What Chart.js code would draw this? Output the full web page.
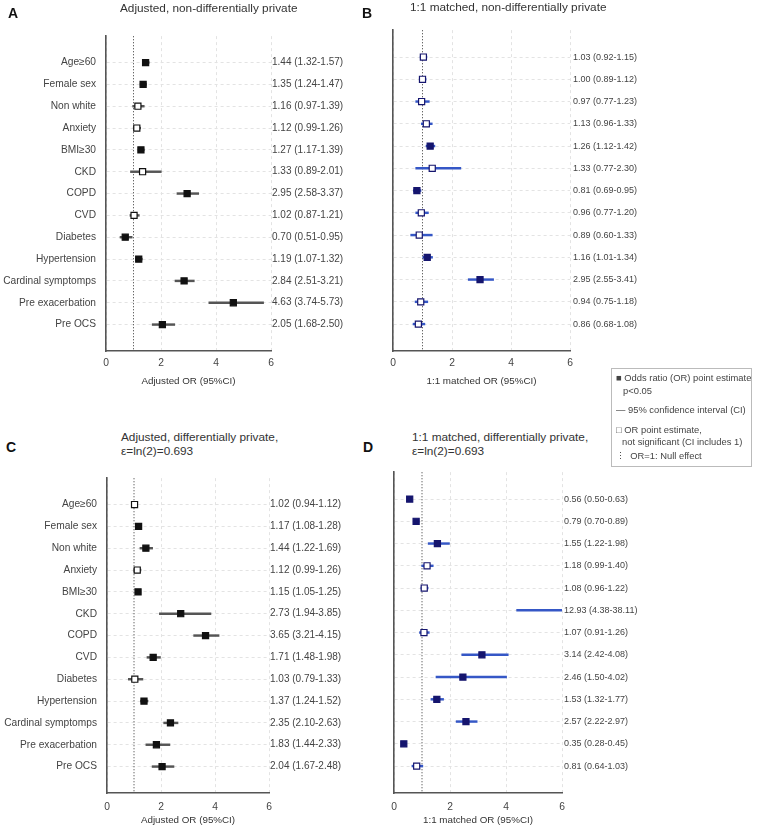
<!DOCTYPE html>
<html><head><meta charset="utf-8">
<script src="https://cdn.jsdelivr.net/npm/chart.js@4"></script>
<style>
body{margin:0;background:#fff;width:760px;height:830px;position:relative;overflow:hidden;font-family:"Liberation Sans",Arial,sans-serif;}
canvas{position:absolute;}
.t{position:absolute;white-space:nowrap;color:#333;line-height:1;}
.lt{font-size:14px;font-weight:bold;color:#111;}
.ti{font-size:11.8px;color:#333;}
.lg{position:absolute;left:611px;top:368px;width:141px;height:99px;border:1px solid #bbb;box-sizing:border-box;}
.li{position:absolute;font-size:9.4px;color:#444;white-space:nowrap;line-height:1;}
</style></head><body>
<canvas id="cA" width="380" height="371" style="left:0;top:20px"></canvas>
<canvas id="cB" width="380" height="371" style="left:380px;top:20px"></canvas>
<canvas id="cC" width="380" height="368" style="left:0;top:462px"></canvas>
<canvas id="cD" width="380" height="368" style="left:380px;top:462px"></canvas>

<div class="t lt" style="left:8px;top:6px">A</div>
<div class="t lt" style="left:362px;top:6px">B</div>
<div class="t lt" style="left:6px;top:440px">C</div>
<div class="t lt" style="left:363px;top:440px">D</div>

<div class="t ti" style="left:120px;top:3px">Adjusted, non-differentially private</div>
<div class="t ti" style="left:410px;top:2px">1:1 matched, non-differentially private</div>
<div class="t ti" style="left:121px;top:432px">Adjusted, differentially private,</div>
<div class="t ti" style="left:121px;top:446px">ε=ln(2)=0.693</div>
<div class="t ti" style="left:412px;top:432px">1:1 matched, differentially private,</div>
<div class="t ti" style="left:412px;top:446px">ε=ln(2)=0.693</div>

<div class="lg"></div>
<div class="li" style="left:616px;top:373px">■ Odds ratio (OR) point estimate</div>
<div class="li" style="left:623px;top:386px">p&lt;0.05</div>
<div class="li" style="left:616px;top:405px">— 95% confidence interval (CI)</div>
<div class="li" style="left:616px;top:425px">□ OR point estimate,</div>
<div class="li" style="left:622px;top:437px">not significant (CI includes 1)</div>
<div class="li" style="left:616px;top:451px">⋮ &nbsp;OR=1: Null effect</div>

<script>
const categories = ['Age≥60','Female sex','Non white','Anxiety','BMI≥30','CKD','COPD','CVD','Diabetes','Hypertension','Cardinal symptomps','Pre exacerbation','Pre OCS'];
const xTickValues = [0, 2, 4, 6];
const NULL_OR = 1;

// A: Adjusted, non-differentially private
const orA = [1.44,1.35,1.16,1.12,1.27,1.33,2.95,1.02,0.70,1.19,2.84,4.63,2.05];
const loA = [1.32,1.24,0.97,0.99,1.17,0.89,2.58,0.87,0.51,1.07,2.51,3.74,1.68];
const hiA = [1.57,1.47,1.39,1.26,1.39,2.01,3.37,1.21,0.95,1.32,3.21,5.73,2.50];
// B: 1:1 matched, non-differentially private
const orB = [1.03,1.00,0.97,1.13,1.26,1.33,0.81,0.96,0.89,1.16,2.95,0.94,0.86];
const loB = [0.92,0.89,0.77,0.96,1.12,0.77,0.69,0.77,0.60,1.01,2.55,0.75,0.68];
const hiB = [1.15,1.12,1.23,1.33,1.42,2.30,0.95,1.20,1.33,1.34,3.41,1.18,1.08];
// C: Adjusted, differentially private
const orC = [1.02,1.17,1.44,1.12,1.15,2.73,3.65,1.71,1.03,1.37,2.35,1.83,2.04];
const loC = [0.94,1.08,1.22,0.99,1.05,1.94,3.21,1.48,0.79,1.24,2.10,1.44,1.67];
const hiC = [1.12,1.28,1.69,1.26,1.25,3.85,4.15,1.98,1.33,1.52,2.63,2.33,2.48];
// D: 1:1 matched, differentially private
const orD = [0.56,0.79,1.55,1.18,1.08,12.93,1.07,3.14,2.46,1.53,2.57,0.35,0.81];
const loD = [0.50,0.70,1.22,0.99,0.96,4.38,0.91,2.42,1.50,1.32,2.22,0.28,0.64];
const hiD = [0.63,0.89,1.98,1.40,1.22,38.11,1.26,4.08,4.02,1.77,2.97,0.45,1.03];

const FONT = "'Liberation Sans', Arial, sans-serif";
const PAD = 1.21;

function makePanel(canvasId, s, or, lo, hi) {
  const n = categories.length;
  const yMin = -PAD, yMax = n - 1 + PAD;
  const valueText = or.map((v, i) => v.toFixed(2) + ' (' + lo[i].toFixed(2) + '-' + hi[i].toFixed(2) + ')');
  const rowTicks = s => { s.ticks = categories.map((c, i) => ({ value: i })); };
  const fills = or.map((v, i) => (lo[i] <= NULL_OR && hi[i] >= NULL_OR) ? '#ffffff' : s.mark);
  new Chart(document.getElementById(canvasId), {
    type: 'scatter',
    data: {
      datasets: [
        { type: 'scatter', data: or.map((v, i) => ({ x: v, y: i })), pointStyle: 'rect',
          pointRadius: 4.3, backgroundColor: fills, borderColor: s.mark, borderWidth: 1.2, order: 1 },
        { type: 'bar', indexAxis: 'y', data: lo.map((v, i) => ({ x: [v, hi[i]], y: i })),
          backgroundColor: s.ci, borderWidth: 0, barThickness: 1.8, order: 2 },
        { type: 'line', data: [{ x: NULL_OR, y: yMin }, { x: NULL_OR, y: yMax }], borderColor: '#555',
          borderWidth: 1, borderDash: [1.2, 1.8], pointRadius: 0, fill: false, order: 3 }
      ]
    },
    options: {
      responsive: false, animation: false, events: [],
      layout: { padding: { top: s.padTop, left: 0, right: 0, bottom: 0 } },
      plugins: { legend: { display: false }, tooltip: { enabled: false } },
      scales: {
        x: {
          type: 'linear', min: 0, max: 6, position: 'bottom', offset: false,
          afterBuildTicks: sc => { sc.ticks = xTickValues.map(v => ({ value: v })); },
          afterFit: sc => { sc.height = s.xH; },
          ticks: { padding: s.tickPad, color: '#444', font: { family: FONT, size: 10.3 }, autoSkip: false },
          grid: { color: '#e3e3e3', lineWidth: 1, drawTicks: false, offset: false },
          border: { display: true, color: '#555', width: 1.6, dash: [3, 3] },
          title: { display: true, text: s.xTitle, color: '#333', font: { family: FONT, size: 9.8 }, padding: { top: 0, bottom: 4 } }
        },
        y: {
          type: 'linear', reverse: true, min: yMin, max: yMax, position: 'left', offset: false,
          afterBuildTicks: rowTicks,
          afterFit: sc => { sc.width = s.leftW; },
          ticks: { padding: s.labPad, autoSkip: false, color: '#444', font: { family: FONT, size: 10.2 },
                   callback: (v) => s.showCats ? categories[v] : '' },
          grid: { color: '#e3e3e3', lineWidth: 1, drawTicks: false, offset: false },
          border: { display: true, color: '#555', width: 1.6, dash: [3, 3] }
        },
        y2: {
          type: 'linear', axis: 'y', reverse: true, min: yMin, max: yMax, position: 'right', offset: false,
          afterBuildTicks: rowTicks,
          afterFit: sc => { sc.width = s.rightW; },
          ticks: { padding: s.valPad, autoSkip: false, color: '#444', font: { family: FONT, size: s.valSize },
                   callback: (v) => valueText[v] },
          grid: { display: false, drawTicks: false },
          border: { display: false }
        }
      }
    }
  });
}

const black = { mark: '#111111', ci: '#555555' };
const blue = { mark: '#15156e', ci: '#3557c6' };

makePanel('cA', Object.assign({ padTop: 9, xH: 40, leftW: 106, rightW: 109, tickPad: 6, labPad: 10, valPad: 1, valSize: 10,
  showCats: true, xTitle: 'Adjusted OR (95%CI)' }, black), orA, loA, hiA);
makePanel('cB', Object.assign({ padTop: 9, xH: 40, leftW: 13, rightW: 190, tickPad: 6, labPad: 4, valPad: 3, valSize: 9,
  showCats: false, xTitle: '1:1 matched OR (95%CI)' }, blue), orB, loB, hiB);
makePanel('cC', Object.assign({ padTop: 10, xH: 37, leftW: 107, rightW: 111, tickPad: 8, labPad: 10, valPad: 1, valSize: 10,
  showCats: true, xTitle: 'Adjusted OR (95%CI)' }, black), orC, loC, hiC);
makePanel('cD', Object.assign({ padTop: 10, xH: 37, leftW: 14, rightW: 198, tickPad: 8, labPad: 4, valPad: 2, valSize: 9,
  showCats: false, xTitle: '1:1 matched OR (95%CI)' }, blue), orD, loD, hiD);
</script>
</body></html>
